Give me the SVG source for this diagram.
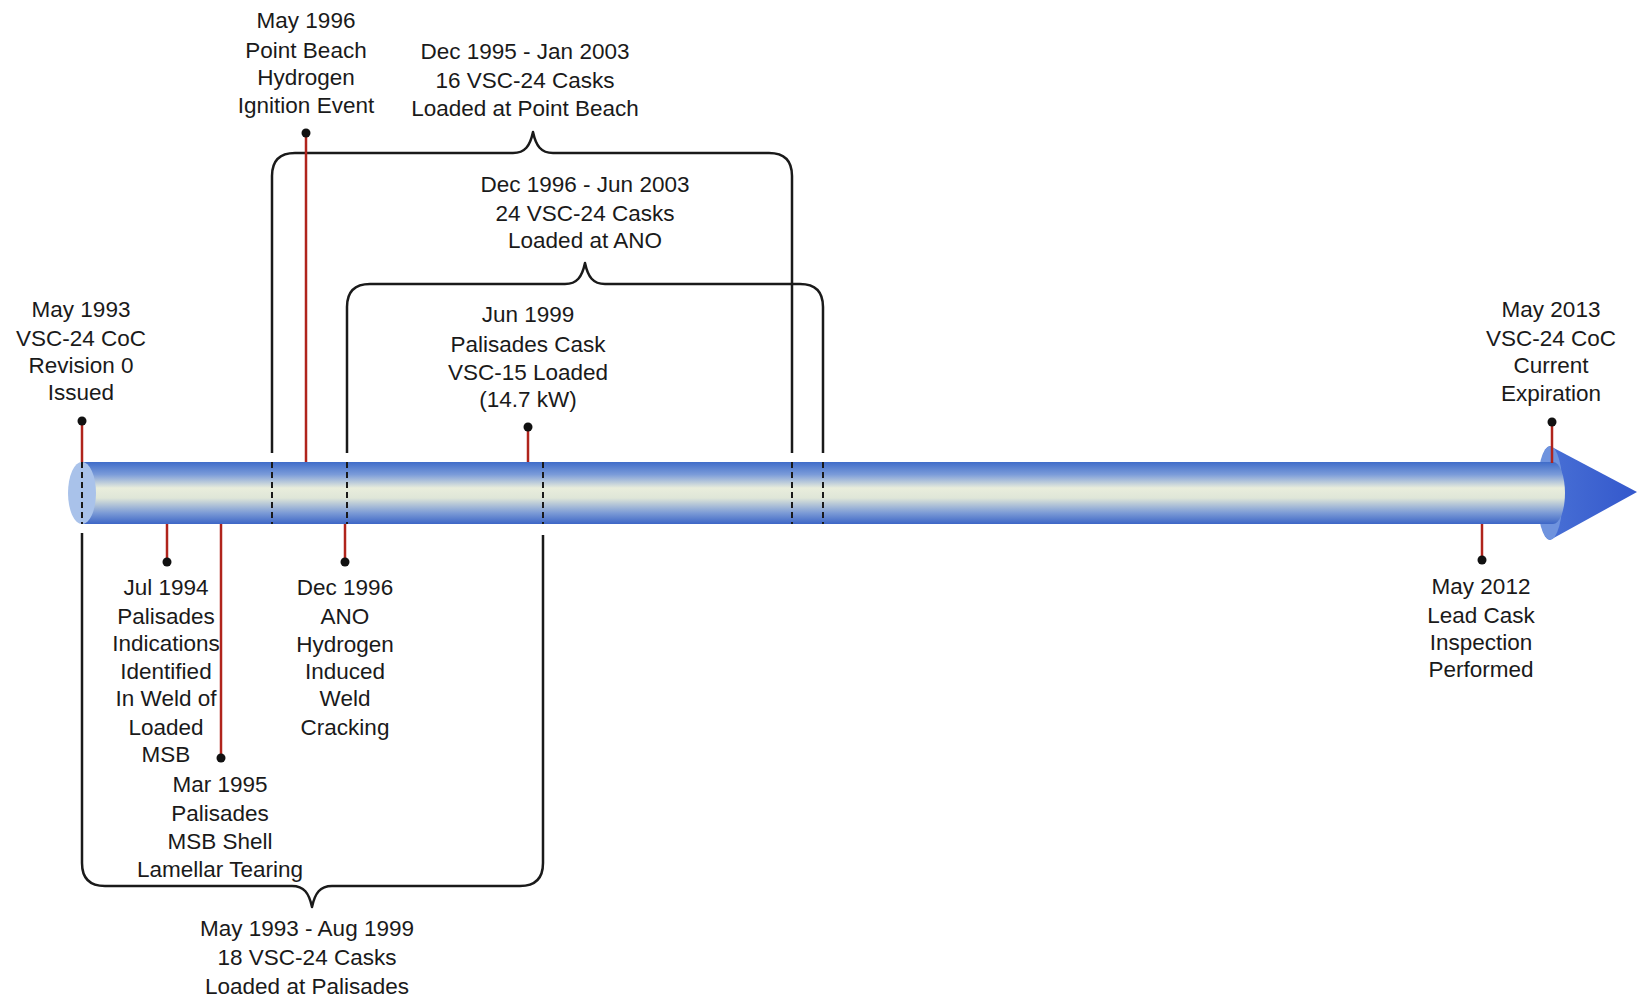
<svg xmlns="http://www.w3.org/2000/svg" width="1637" height="999" viewBox="0 0 1637 999">
<defs>
<linearGradient id="tubeG" x1="0" y1="0" x2="0" y2="1">
<stop offset="0" stop-color="#3f6cc9"/>
<stop offset="0.2" stop-color="#7a9bd9"/>
<stop offset="0.42" stop-color="#e9eddc"/>
<stop offset="0.58" stop-color="#dfe6d8"/>
<stop offset="0.82" stop-color="#7c9bd6"/>
<stop offset="1" stop-color="#3d66c6"/>
</linearGradient>
<linearGradient id="coneG" x1="0" y1="0" x2="1" y2="0">
<stop offset="0" stop-color="#4a72d6"/>
<stop offset="1" stop-color="#3458cc"/>
</linearGradient>
<style>
text{font-family:"Liberation Sans",Arial,sans-serif;font-size:22.5px;fill:#1a1a1a;text-anchor:middle}
.br{fill:none;stroke:#1a1a1a;stroke-width:2.5;stroke-linejoin:round}
.dash{fill:none;stroke:#1a1a1a;stroke-width:2;stroke-dasharray:6 4}
.tick{stroke:#b0241c;stroke-width:2.5}
.dot{fill:#111}
</style>
</defs>
<rect width="1637" height="999" fill="#ffffff"/>

<g id="timeline">
<path d="M1550 446 L1637 492 L1550 540 A12 47 0 0 1 1550 446 Z" fill="url(#coneG)"/>
<ellipse cx="1550" cy="493" rx="13" ry="47" fill="#6f93de"/>
<path d="M82 462 H1553 A12 31 0 0 1 1553 524 H82 Z" fill="url(#tubeG)"/>
<ellipse cx="82" cy="493" rx="14" ry="31" fill="#a9c2ea"/>
</g>

<g id="connectors">
<path class="br" d="M272 453 V176 Q272 153 295 153 H513 C525 153 530 146 533 132 C536 146 541 153 553 153 H769 Q792 153 792 176 V453"/>
<path class="br" d="M347 453 V307 Q347 284 370 284 H565 C577 284 582 277 585 263 C588 277 593 284 605 284 H800 Q823 284 823 307 V453"/>
<path class="br" d="M82 533 V863 Q82 886 105 886 H292 C304 886 309 893 312 907 C315 893 320 886 332 886 H520 Q543 886 543 863 V535"/>
<line class="dash" x1="82" y1="462" x2="82" y2="524"/>
<line class="dash" x1="272" y1="462" x2="272" y2="524"/>
<line class="dash" x1="347" y1="462" x2="347" y2="524"/>
<line class="dash" x1="543" y1="462" x2="543" y2="524"/>
<line class="dash" x1="792" y1="462" x2="792" y2="524"/>
<line class="dash" x1="823" y1="462" x2="823" y2="524"/>
</g>

<g id="may1993">
<line class="tick" x1="82" y1="421" x2="82" y2="462"/>
<circle class="dot" cx="82" cy="421" r="4.5"/>
<text x="81" y="317">May 1993</text>
<text x="81" y="346">VSC-24 CoC</text>
<text x="81" y="373">Revision 0</text>
<text x="81" y="400">Issued</text>
</g>

<g id="may1996">
<line class="tick" x1="306" y1="133" x2="306" y2="462"/>
<circle class="dot" cx="306" cy="133" r="4.5"/>
<text x="306" y="28">May 1996</text>
<text x="306" y="58">Point Beach</text>
<text x="306" y="85">Hydrogen</text>
<text x="306" y="113">Ignition Event</text>
</g>

<g id="pointbeach-range">
<text x="525" y="59">Dec 1995 - Jan 2003</text>
<text x="525" y="88">16 VSC-24 Casks</text>
<text x="525" y="116">Loaded at Point Beach</text>
</g>

<g id="ano-range">
<text x="585" y="192">Dec 1996 - Jun 2003</text>
<text x="585" y="221">24 VSC-24 Casks</text>
<text x="585" y="248">Loaded at ANO</text>
</g>

<g id="jun1999">
<line class="tick" x1="528" y1="427" x2="528" y2="462"/>
<circle class="dot" cx="528" cy="427" r="4.5"/>
<text x="528" y="322">Jun 1999</text>
<text x="528" y="352">Palisades Cask</text>
<text x="528" y="380">VSC-15 Loaded</text>
<text x="528" y="407">(14.7 kW)</text>
</g>

<g id="may2013">
<line class="tick" x1="1552" y1="422" x2="1552" y2="463"/>
<circle class="dot" cx="1552" cy="422" r="4.5"/>
<text x="1551" y="317">May 2013</text>
<text x="1551" y="346">VSC-24 CoC</text>
<text x="1551" y="373">Current</text>
<text x="1551" y="401">Expiration</text>
</g>

<g id="jul1994">
<line class="tick" x1="167" y1="524" x2="167" y2="562"/>
<circle class="dot" cx="167" cy="562" r="4.5"/>
<text x="166" y="595">Jul 1994</text>
<text x="166" y="624">Palisades</text>
<text x="166" y="651">Indications</text>
<text x="166" y="679">Identified</text>
<text x="166" y="706">In Weld of</text>
<text x="166" y="735">Loaded</text>
<text x="166" y="762">MSB</text>
</g>

<g id="mar1995">
<line class="tick" x1="221" y1="524" x2="221" y2="758"/>
<circle class="dot" cx="221" cy="758" r="4.5"/>
<text x="220" y="792">Mar 1995</text>
<text x="220" y="821">Palisades</text>
<text x="220" y="849">MSB Shell</text>
<text x="220" y="877">Lamellar Tearing</text>
</g>

<g id="dec1996">
<line class="tick" x1="345" y1="524" x2="345" y2="562"/>
<circle class="dot" cx="345" cy="562" r="4.5"/>
<text x="345" y="595">Dec 1996</text>
<text x="345" y="624">ANO</text>
<text x="345" y="652">Hydrogen</text>
<text x="345" y="679">Induced</text>
<text x="345" y="706">Weld</text>
<text x="345" y="735">Cracking</text>
</g>

<g id="may2012">
<line class="tick" x1="1482" y1="524" x2="1482" y2="560"/>
<circle class="dot" cx="1482" cy="560" r="4.5"/>
<text x="1481" y="594">May 2012</text>
<text x="1481" y="623">Lead Cask</text>
<text x="1481" y="650">Inspection</text>
<text x="1481" y="677">Performed</text>
</g>

<g id="palisades-range">
<text x="307" y="936">May 1993 - Aug 1999</text>
<text x="307" y="965">18 VSC-24 Casks</text>
<text x="307" y="994">Loaded at Palisades</text>
</g>
</svg>
